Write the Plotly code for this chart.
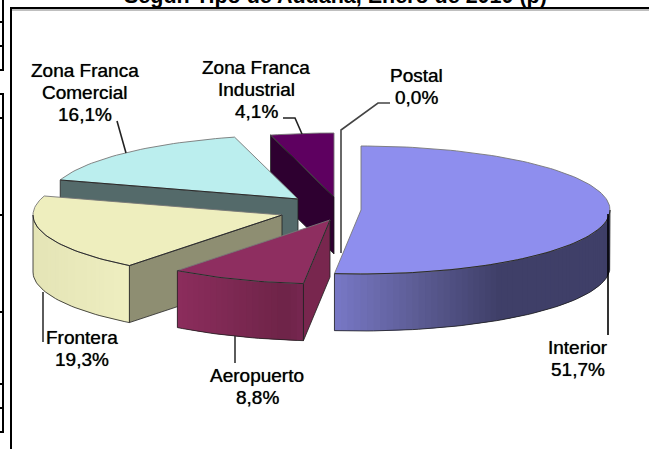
import math
import plotly.graph_objects as go

# Data
categories = ["Interior", "Aeropuerto", "Frontera", "Zona Franca<br>Comercial", "Zona Franca<br>Industrial", "Postal"]
shares = [51.7, 8.8, 19.3, 16.1, 4.1, 0.0]
title_text = "<b>Según Tipo de Aduana, Enero de 2010 (p)</b>"

# Styles and layout (exploded 3-D pie drawn in pixel-sized data units)
RX, RY, DEPTH = 249, 64, 57
centers = [(361, 210), (330, 220), (282, 215), (298, 199), (334, 197), (341, 196)]
top_colors = ["#8E8EEE", "#8E2E60", "#EEEEBE", "#BBEEEE", "#5E0060", "#555555"]
edge_colors = [None, "#78264E", "#8E8E72", "#546A6A", "#2E0030", None]
wall_stops = [
    [(0.0, "#7878C6"), (0.3, "#5C5C94"), (0.6, "#3F3F68"), (1.0, "#3F3F68")],
    [(0.0, "#8C2D5D"), (0.85, "#6E2448"), (1.0, "#762650")],
    [(0.0, "#E4E4B6"), (1.0, "#EEEEC0")],
    None, None, None,
]
label_pos = [(578, 358), (257, 386), (82, 348), (85, 92), (256, 89), (416, 86)]
leaders = [
    [(608, 214), (608, 335)],
    [(235, 336), (235, 363)],
    [(43, 292), (43, 342)],
    [(117, 121), (126, 153)],
    [(283, 118), (295, 118), (302, 134)],
    [(390, 103), (378, 103), (341, 130), (341, 253)],
]
draw_order = [4, 3, 2, 1, 5, 0]
OUTLINE = "#202020"
BACK_RIM = "#777777"
LINE_GAP = 22
FONT = "Liberation Sans"

fig = go.Figure()


def poly(pts, fill=None, line=None, width=1.0):
    xs = [p[0] for p in pts]
    ys = [p[1] for p in pts]
    fig.add_trace(go.Scatter(
        x=xs, y=ys, mode="lines",
        fill="toself" if fill else "none",
        fillcolor=fill,
        line=dict(color=line or "rgba(0,0,0,0)", width=width),
        hoverinfo="skip", showlegend=False,
    ))


def rim(c, deg):
    a = math.radians(deg)
    return (c[0] + RX * math.sin(a), c[1] - RY * math.cos(a))


def hex_rgb(h):
    return tuple(int(h[i:i + 2], 16) for i in (1, 3, 5))


def mix(stops, t):
    for (t0, c0), (t1, c1) in zip(stops, stops[1:]):
        if t <= t1:
            f = (t - t0) / (t1 - t0) if t1 > t0 else 0
            a, b = hex_rgb(c0), hex_rgb(c1)
            return "rgb(%d,%d,%d)" % tuple(round(a[i] + (b[i] - a[i]) * f) for i in range(3))
    return stops[-1][1]


def down(p):
    return (p[0], p[1] + DEPTH)


total = sum(shares)
bounds = []
acc = 0.0
for s in shares:
    bounds.append((acc * 360 / total, (acc + s) * 360 / total))
    acc += s

for i in draw_order:
    c = centers[i]
    a0, a1 = bounds[i]
    if shares[i] == 0:
        continue
    # flat radial wall facing the viewer
    if edge_colors[i]:
        p = rim(c, a0)
        poly([c, p, down(p), down(c), c], fill=edge_colors[i], line=OUTLINE, width=0.8)
    # curved outer wall, front half only
    w0, w1 = max(a0, 90), min(a1, 270)
    front = []
    if wall_stops[i] and w1 > w0:
        n = max(2, int((w1 - w0) / 1.5))
        angs = [w0 + (w1 - w0) * k / n for k in range(n + 1)]
        xs = [rim(c, a)[0] for a in angs]
        lo, hi = min(xs), max(xs)
        for k in range(n):
            p = rim(c, angs[k])
            q = rim(c, angs[min(k + 2, n)])
            mid = rim(c, (angs[k] + angs[k + 1]) / 2)
            col = mix(wall_stops[i], (mid[0] - lo) / (hi - lo))
            poly([p, q, down(q), down(p), p], fill=col, width=0)
        front = [rim(c, a) for a in angs]
        poly([front[0], down(front[0])] + [down(p) for p in front[1:]] + [front[-1]],
             line=OUTLINE, width=0.8)
    # top face
    steps = max(2, int((a1 - a0) / 1.5))
    arc = [rim(c, a0 + (a1 - a0) * k / steps) for k in range(steps + 1)]
    poly([c] + arc + [c], fill=top_colors[i], line=BACK_RIM, width=0.9)
    # darker front-facing edges of the top face
    if front:
        poly(front, line=OUTLINE, width=0.9)
    if edge_colors[i]:
        poly([c, rim(c, a0)], line=OUTLINE, width=0.9)

# Leader lines
for pts, col in zip(leaders, ["#000000", "#333333", "#333333", "#222222", "#222222", "#444444"]):
    poly(pts, line=col, width=1.6)

# Left-hand table fragment and chart frame
table_lines = [
    [(3, 0), (3, 70), (0, 70)], [(0, 22), (3, 22)], [(0, 46), (3, 46)],
    [(0, 94), (3, 94), (3, 432), (0, 432)], [(0, 118), (3, 118)], [(0, 215), (3, 215)],
    [(0, 312), (3, 312)], [(0, 384), (3, 384)], [(0, 408), (3, 408)],
]
for pts in table_lines:
    poly(pts, line="#000000", width=2)
poly([(12, 10), (649, 10)], line="#AAAAAA", width=1.5)
poly([(11, 449), (11, 8), (649, 8)], line="#000000", width=2)

annotations = []
for name, val, (x, y) in zip(categories, shares, label_pos):
    rows = name.split("<br>") + [f"{val:.1f}%".replace(".", ",")]
    top = y - LINE_GAP * (len(rows) - 1) / 2
    for r, row in enumerate(rows):
        annotations.append(dict(
            x=x, y=top + r * LINE_GAP, xref="x", yref="y", showarrow=False, align="center",
            text=row,
            font=dict(family=FONT, size=19, color="#000000", shadow="0 0 0.7px rgba(0,0,0,0.8)"),
        ))
annotations.append(dict(
    x=335, y=5, xref="x", yref="y", showarrow=False, xanchor="center", yanchor="bottom", yshift=-5,
    text=title_text, font=dict(family=FONT, size=21.5, color="#000000"),
))

fig.update_layout(
    width=649, height=449, margin=dict(l=0, r=0, t=0, b=0),
    paper_bgcolor="#FFFFFF", plot_bgcolor="#FFFFFF",
    xaxis=dict(range=[0, 649], visible=False, fixedrange=True),
    yaxis=dict(range=[449, 0], visible=False, fixedrange=True),
    annotations=annotations, showlegend=False,
)
fig.write_html("out.html", config={"displayModeBar": False},
               post_script="document.body.style.margin='0';document.documentElement.style.overflow='hidden';")
